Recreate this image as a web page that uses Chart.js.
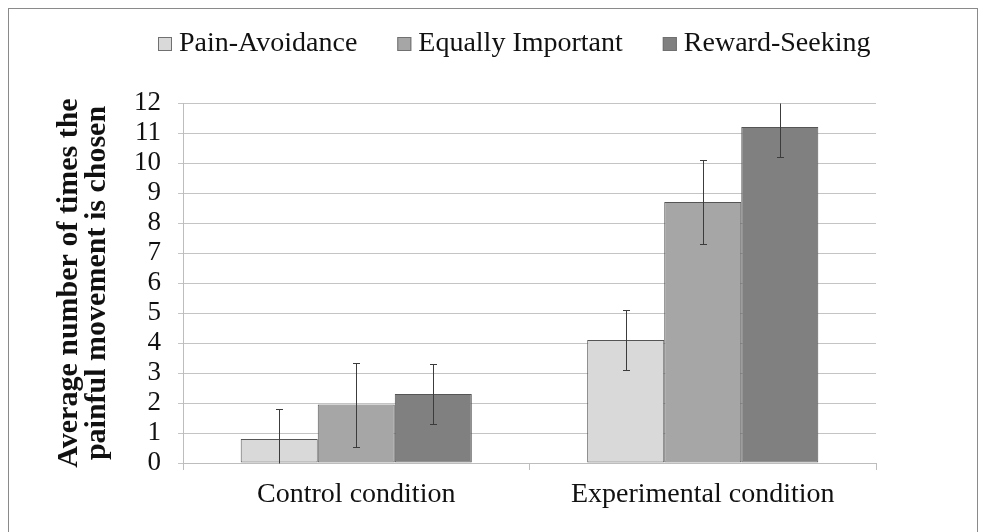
<!DOCTYPE html>
<html>
<head>
<meta charset="utf-8">
<script src="https://cdn.jsdelivr.net/npm/chart.js@4.4.1/dist/chart.umd.min.js"></script>
<style>
  body { margin: 0; background: #fff; }
  #frame { position: absolute; left: 8px; top: 8px; width: 970px; height: 540px; border: 1px solid #8a8a8a; box-sizing: border-box; }
  canvas { position: absolute; left: 0; top: 0; }
</style>
</head>
<body>
<div id="frame"></div>
<canvas id="chart" width="986" height="532"></canvas>
<script>
// values (means and +/- error)
const conditions = ['Control condition', 'Experimental condition'];
const seriesNames = ['Pain-Avoidance', 'Equally Important', 'Reward-Seeking'];
const painAvoidance = [0.8, 4.1];
const equallyImportant = [1.95, 8.7];
const rewardSeeking = [2.3, 11.2];
const painAvoidanceErr = [1.0, 1.0];
const equallyImportantErr = [1.4, 1.4];
const rewardSeekingErr = [1.0, 1.0];
const yTickValues = [0, 1, 2, 3, 4, 5, 6, 7, 8, 9, 10, 11, 12];
const yTitle = ['Average number of times the', 'painful movement is chosen'];

const barColors = ['#d9d9d9', '#a6a6a6', '#808080'];
const serif = '"Liberation Serif", "Times New Roman", serif';

// draws the error whiskers on top of each bar
const errorBars = {
    id: 'errorBars',
    afterDatasetsDraw(chart) {
        const ctx = chart.ctx;
        const y = chart.scales.y;
        ctx.save();
        ctx.strokeStyle = '#3c3c3c';
        ctx.lineWidth = 1;
        chart.data.datasets.forEach((ds, i) => {
            chart.getDatasetMeta(i).data.forEach((bar, j) => {
                const v = ds.data[j];
                const e = ds.errors[j];
                const hi = Math.min(v + e, y.max);
                const lo = Math.max(v - e, y.min);
                const x = Math.round(bar.x) + 0.5;
                const yHi = Math.round(y.getPixelForValue(hi)) + 0.5;
                const yLo = Math.round(y.getPixelForValue(lo)) + 0.5;
                ctx.beginPath();
                ctx.moveTo(x, yHi);
                ctx.lineTo(x, yLo);
                if (v + e <= y.max) { ctx.moveTo(x - 3.5, yHi); ctx.lineTo(x + 3.5, yHi); }
                if (v - e >= y.min) { ctx.moveTo(x - 3.5, yLo); ctx.lineTo(x + 3.5, yLo); }
                ctx.stroke();
            });
        });
        ctx.restore();
    }
};

// legend row across the top (square + label, like the original)
const legendRow = {
    id: 'legendRow',
    afterDraw(chart) {
        const ctx = chart.ctx;
        ctx.save();
        ctx.font = '28px ' + serif;
        ctx.textBaseline = 'middle';
        const box = 14, gap = 7, spacing = 40, cy = 44;
        const items = chart.data.datasets.map(ds => ({
            label: ds.label,
            color: ds.backgroundColor,
            w: ctx.measureText(ds.label).width
        }));
        const total = items.reduce((s, it) => s + box + gap + it.w, 0) + spacing * (items.length - 1);
        let x = Math.round(514 - total / 2);
        items.forEach(it => {
            ctx.fillStyle = it.color;
            ctx.fillRect(x, cy - box / 2, box, box);
            ctx.strokeStyle = '#707070';
            ctx.lineWidth = 1;
            ctx.strokeRect(x + 0.5, cy - box / 2 + 0.5, box - 1, box - 1);
            ctx.fillStyle = '#111';
            ctx.fillText(it.label, x + box + gap, cy);
            x += box + gap + it.w + spacing;
        });
        ctx.restore();
    }
};

const ctx = document.getElementById('chart').getContext('2d');
const myChart = new Chart(ctx, {
    type: 'bar',
    data: {
        labels: conditions,
        datasets: [
            { label: seriesNames[0], data: painAvoidance, errors: painAvoidanceErr, backgroundColor: barColors[0] },
            { label: seriesNames[1], data: equallyImportant, errors: equallyImportantErr, backgroundColor: barColors[1] },
            { label: seriesNames[2], data: rewardSeeking, errors: rewardSeekingErr, backgroundColor: barColors[2] }
        ]
    },
    options: {
        responsive: false,
        animation: false,
        layout: { padding: { left: 55, right: 110, top: 103, bottom: 0 } },
        datasets: {
            bar: {
                borderColor: '#555555',
                borderWidth: 1,
                borderSkipped: false,
                categoryPercentage: 0.667,
                barPercentage: 1.0
            }
        },
        plugins: {
            legend: { display: false },
            tooltip: { enabled: false }
        },
        scales: {
            x: {
                afterFit: s => { s.height = 69; },
                grid: { display: true, drawOnChartArea: false, color: '#bdbdbd', tickLength: 7, offset: true },
                border: { color: '#bdbdbd' },
                ticks: { color: '#111', padding: 8, font: { family: serif, size: 28 } }
            },
            y: {
                min: 0,
                max: 12,
                afterFit: s => { s.width = 183 - 55; },
                afterBuildTicks: s => { s.ticks = yTickValues.map(v => ({ value: v })); },
                grid: { color: '#c4c4c4', tickLength: 5 },
                border: { color: '#bdbdbd' },
                ticks: { color: '#111', padding: 17, autoSkip: false, font: { family: serif, size: 27 } },
                title: {
                    display: true,
                    text: yTitle,
                    color: '#111',
                    padding: 0,
                    font: { family: serif, size: 30, weight: 'bold', lineHeight: 0.93 }
                }
            }
        }
    },
    plugins: [errorBars, legendRow]
});
</script>
</body>
</html>
